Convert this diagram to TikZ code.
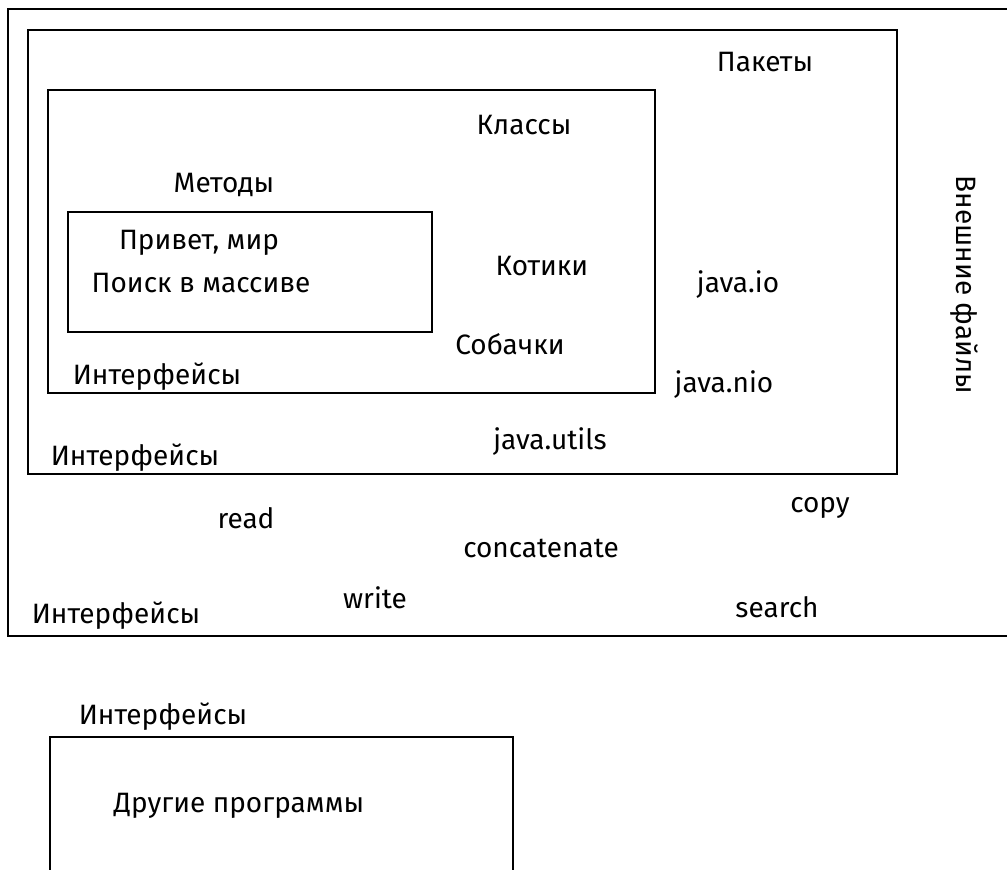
\documentclass[tikz,border=0pt]{standalone}
\usepackage{fontspec}
\setmainfont{Fira Sans}
\begin{document}
\begin{tikzpicture}[x=1pt,y=-1pt,
  box/.style={draw=black,line width=2pt},
  lbl/.style={inner sep=0pt,font=\fontsize{28}{32}\selectfont}]
\useasboundingbox (0,0) rectangle (1007,870);
% frames
\draw[box] (1015,9) -- (8,9) -- (8,636) -- (1015,636);
\draw[box] (28,30) rectangle (897,474);
\draw[box] (48,90) rectangle (655,393);
\draw[box] (68,212) rectangle (432,332);
\draw[box] (513,880) -- (513,737) -- (50,737) -- (50,880);
% labels
\node[lbl] (pak) at (765,62) {Пакеты};
\node[lbl] (kl) at (524,125) {Классы};
\node[lbl] (met) at (224,185) {Методы};
\node[lbl] (pm) at (199,243) {Привет, мир};
\node[lbl] (poisk) at (201,283) {Поиск в массиве};
\node[lbl] (kot) at (542,266) {Котики};
\node[lbl] (jio) at (738,285) {java.io};
\node[lbl] (sob) at (510,344) {Собачки};
\node[lbl] (if1) at (157,377) {Интерфейсы};
\node[lbl] (jnio) at (724,385) {java.nio};
\node[lbl] (jut) at (550,442) {java.utils};
\node[lbl] (if2) at (135,458) {Интерфейсы};
\node[lbl] (read) at (246,518) {read};
\node[lbl] (copy) at (820,508) {copy};
\node[lbl] (conc) at (541,548) {concatenate};
\node[lbl] (write) at (375,598) {write};
\node[lbl] (search) at (777,607) {search};
\node[lbl] (if3) at (116,616) {Интерфейсы};
\node[lbl,rotate=-90] (ext) at (964,285) {Внешние файлы};
\node[lbl] (if4) at (163,717) {Интерфейсы};
\node[lbl] (dp) at (239,806) {Другие программы};
\end{tikzpicture}
\end{document}
